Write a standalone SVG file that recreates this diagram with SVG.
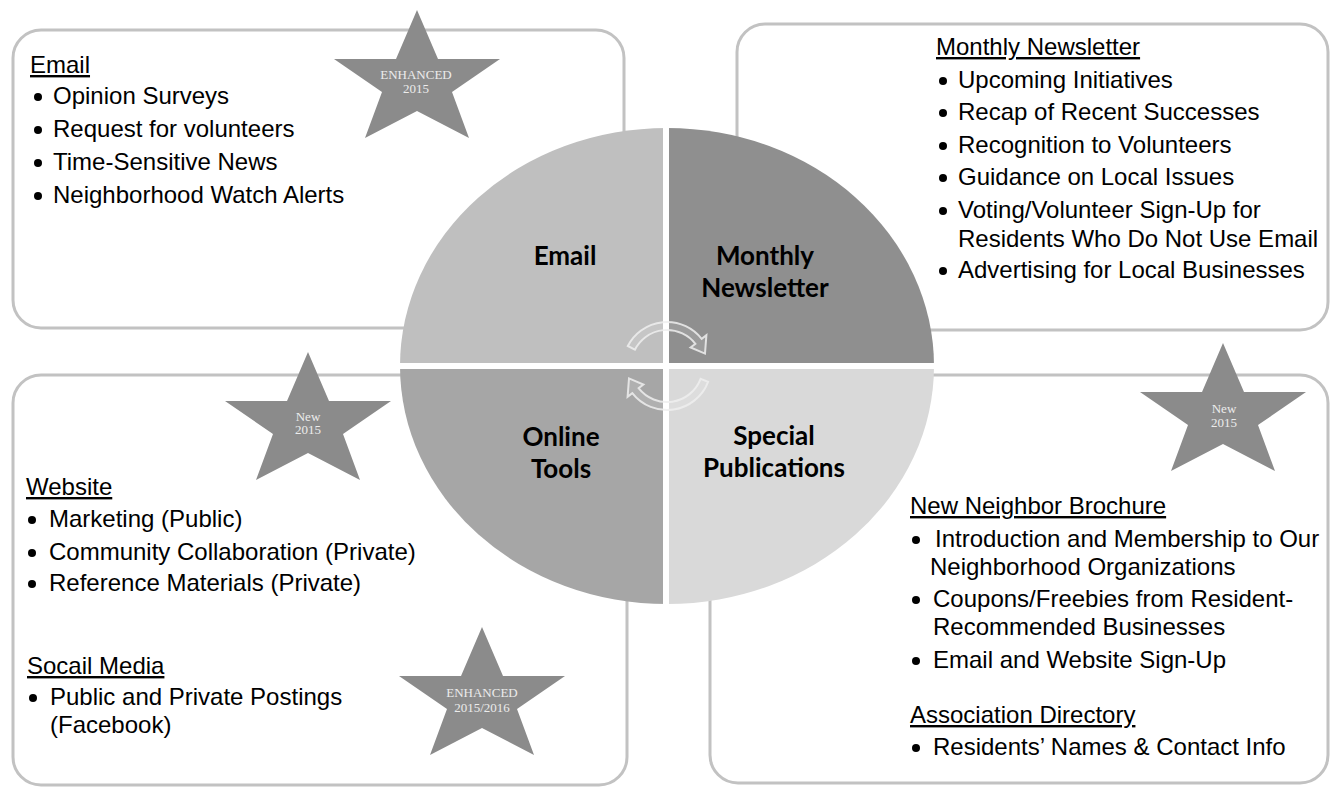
<svg xmlns="http://www.w3.org/2000/svg" width="1338" height="791" viewBox="0 0 1338 791">
<style>
.box{fill:#ffffff;stroke:#c2c2c2;stroke-width:3;filter:url(#soft)}
.t{font-family:"Liberation Sans",Arial,sans-serif;font-size:24px;fill:#000}
.h{text-decoration:underline}
.b{fill:#000}
.q{font-family:Lato,"Open Sans",sans-serif;font-weight:700;font-size:26px;fill:#000;text-anchor:middle}
.star{fill:#8b8b8b}
.st{font-family:"Liberation Serif","Times New Roman",serif;font-size:13px;fill:#ececec;text-anchor:middle}
.arr{fill:#ffffff;fill-opacity:0.12;stroke:#eeeeee;stroke-width:2;stroke-opacity:0.85}
</style>
<defs>
<filter id="soft" x="-5%" y="-5%" width="110%" height="110%"><feGaussianBlur stdDeviation="0.7"/></filter>
<polygon id="starShape" points="0,0 21,49 83,49 35,82 52,128 0,101 -52,128 -35,82 -83,49 -21,49"/>
</defs>
<rect width="1338" height="791" fill="#ffffff"/>

<g id="box-email">
<rect class="box" x="13" y="30" width="611" height="298" rx="28"/>
<text class="t h" x="30" y="73">Email</text>
<circle class="b" cx="38" cy="97" r="4"/><text class="t" x="53" y="104">Opinion Surveys</text>
<circle class="b" cx="38" cy="130" r="4"/><text class="t" x="53" y="137">Request for volunteers</text>
<circle class="b" cx="38" cy="163" r="4"/><text class="t" x="53" y="170">Time-Sensitive News</text>
<circle class="b" cx="38" cy="196" r="4"/><text class="t" x="53" y="203">Neighborhood Watch Alerts</text>
</g>

<g id="box-newsletter">
<rect class="box" x="737" y="24" width="591" height="306" rx="28"/>
<text class="t h" x="936" y="55">Monthly Newsletter</text>
<circle class="b" cx="943" cy="81" r="4"/><text class="t" x="958" y="88">Upcoming Initiatives</text>
<circle class="b" cx="943" cy="113" r="4"/><text class="t" x="958" y="120">Recap of Recent Successes</text>
<circle class="b" cx="943" cy="146" r="4"/><text class="t" x="958" y="153">Recognition to Volunteers</text>
<circle class="b" cx="943" cy="178" r="4"/><text class="t" x="958" y="185">Guidance on Local Issues</text>
<circle class="b" cx="943" cy="211" r="4"/><text class="t" x="958" y="218">Voting/Volunteer Sign-Up for</text>
<text class="t" x="958" y="247">Residents Who Do Not Use Email</text>
<circle class="b" cx="943" cy="271" r="4"/><text class="t" x="958" y="278">Advertising for Local Businesses</text>
</g>

<g id="box-online">
<rect class="box" x="13" y="375" width="614" height="410" rx="28"/>
<text class="t h" x="26" y="495">Website</text>
<circle class="b" cx="32" cy="520" r="4"/><text class="t" x="49" y="527">Marketing (Public)</text>
<circle class="b" cx="32" cy="553" r="4"/><text class="t" x="49" y="560">Community Collaboration (Private)</text>
<circle class="b" cx="32" cy="584" r="4"/><text class="t" x="49" y="591">Reference Materials (Private)</text>
<text class="t h" x="27" y="674">Socail Media</text>
<circle class="b" cx="33" cy="698" r="4"/><text class="t" x="50" y="705">Public and Private Postings</text>
<text class="t" x="50" y="733">(Facebook)</text>
</g>

<g id="box-special">
<rect class="box" x="710" y="375" width="618" height="408" rx="28"/>
<text class="t h" x="910" y="514">New Neighbor Brochure</text>
<circle class="b" cx="916" cy="540" r="4"/><text class="t" x="935" y="547">Introduction and Membership to Our</text>
<text class="t" x="930" y="575">Neighborhood Organizations</text>
<circle class="b" cx="916" cy="600" r="4"/><text class="t" x="933" y="607">Coupons/Freebies from Resident-</text>
<text class="t" x="933" y="635">Recommended Businesses</text>
<circle class="b" cx="916" cy="661" r="4"/><text class="t" x="933" y="668">Email and Website Sign-Up</text>
<text class="t h" x="910" y="723">Association Directory</text>
<circle class="b" cx="916" cy="748" r="4"/><text class="t" x="933" y="755">Residents&#8217; Names &amp; Contact Info</text>
</g>

<g id="cycle">
<g id="q-email"><path d="M667,366 L400,366 A267,238 0 0 1 667,128 Z" fill="#bfbfbf"/><text class="q" x="565" y="265">Email</text></g>
<g id="q-newsletter"><path d="M667,366 L667,128 A267,238 0 0 1 934,366 Z" fill="#8f8f8f"/><text class="q" x="765" y="265">Monthly</text><text class="q" x="765" y="297">Newsletter</text></g>
<g id="q-special"><path d="M667,366 L934,366 A267,238 0 0 1 667,604 Z" fill="#d9d9d9"/></g>
<g id="q-online"><path d="M667,366 L667,604 A267,238 0 0 1 400,366 Z" fill="#a6a6a6"/></g>
<line x1="666" y1="124" x2="666" y2="608" stroke="#ffffff" stroke-width="6"/>
<line x1="396" y1="366" x2="938" y2="366" stroke="#ffffff" stroke-width="6"/>
<text class="q" x="561" y="446">Online</text><text class="q" x="561" y="478">Tools</text>
<text class="q" x="774" y="445">Special</text><text class="q" x="774" y="477">Publications</text>
</g>

<g id="connectors">
<path class="arr" d="M627.8,346 A44,44 0 0 1 701.7,338.9 L706.4,335.2 L705,353.6 L690.6,347.5 L695.4,343.8 A36,36 0 0 0 634.9,349.7 Z"/>
<path class="arr" d="M708.1,381.8 A44,44 0 0 1 632.3,393.1 L627.6,396.8 L629,378.4 L643.4,384.5 L638.6,388.2 A36,36 0 0 0 700.6,378.9 Z"/>
</g>

<g id="star-email">
<use href="#starShape" class="star" transform="translate(417,10)"/>
<text class="st" x="416" y="79">ENHANCED</text>
<text class="st" x="416" y="93">2015</text>
</g>
<g id="star-special">
<use href="#starShape" class="star" transform="translate(1223,343)"/>
<text class="st" x="1224" y="413">New</text>
<text class="st" x="1224" y="427">2015</text>
</g>
<g id="star-website">
<use href="#starShape" class="star" transform="translate(308,352)"/>
<text class="st" x="308" y="421">New</text>
<text class="st" x="308" y="434">2015</text>
</g>
<g id="star-social">
<use href="#starShape" class="star" transform="translate(482,627)"/>
<text class="st" x="482" y="697">ENHANCED</text>
<text class="st" x="482" y="712">2015/2016</text>
</g>
</svg>
